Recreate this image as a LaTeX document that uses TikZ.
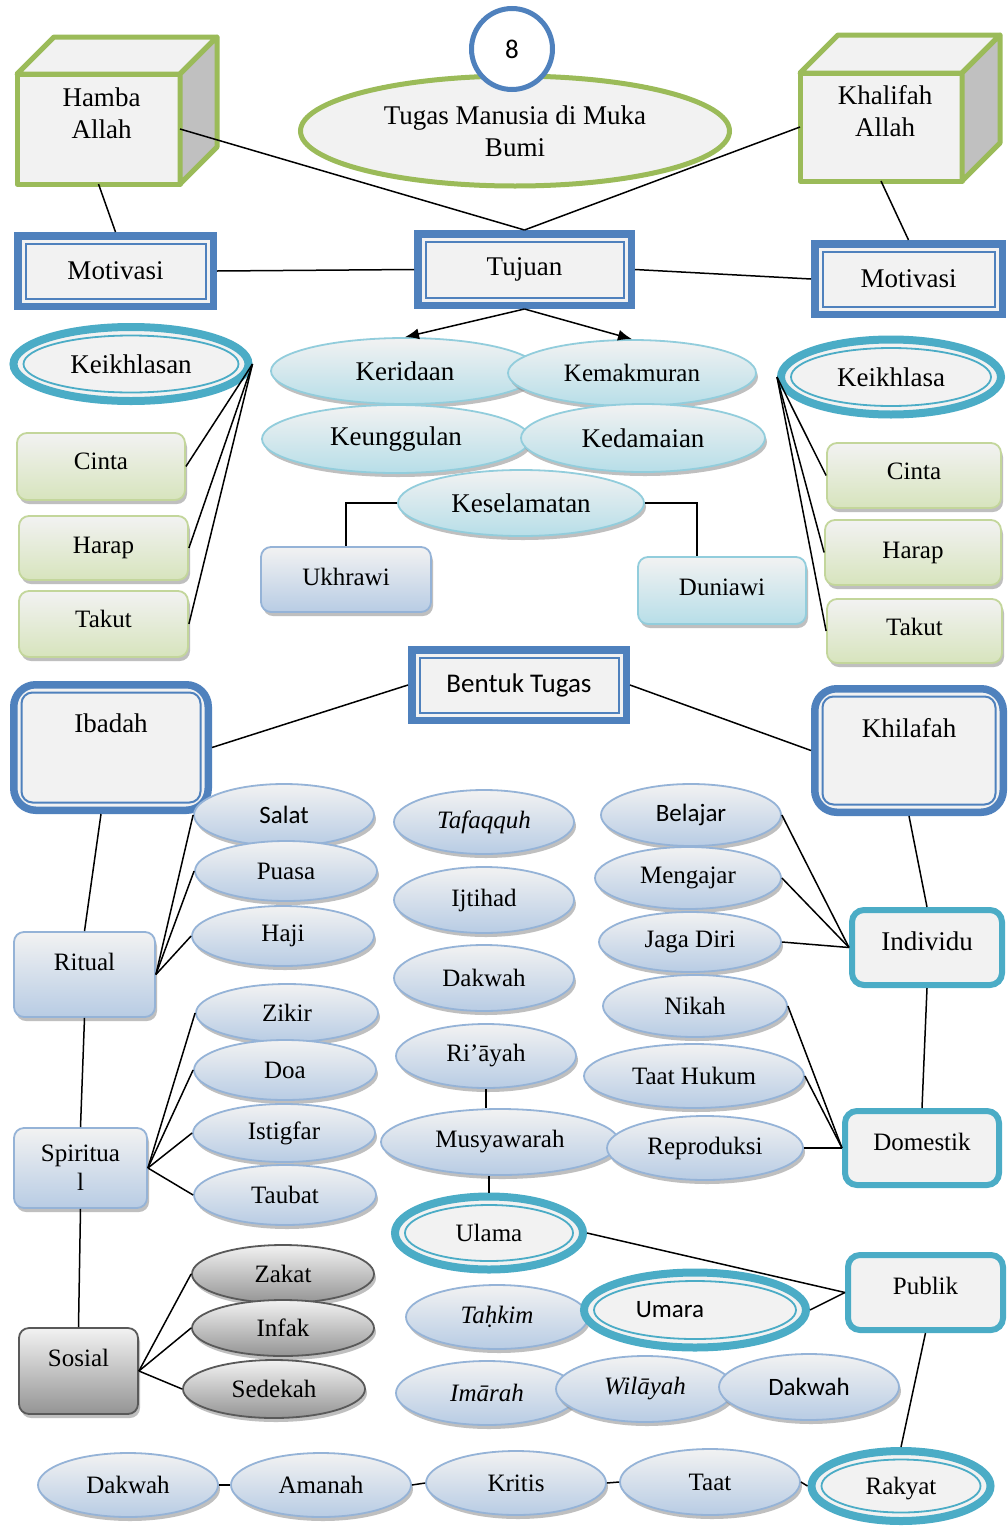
\documentclass[tikz,border=0pt]{standalone}
\usepackage{fontspec}
\setmainfont{Liberation Serif}
\newfontfamily\calib{Carlito}
\usetikzlibrary{shapes.geometric,shadows,calc,arrows.meta}

\definecolor{boxblue}{HTML}{4F81BD}
\definecolor{aqua}{HTML}{4BACC6}
\definecolor{leaf}{HTML}{9BBB59}
\definecolor{paper}{HTML}{F2F2F2}
\definecolor{blueedge}{HTML}{95B3D7}
\definecolor{bluefill}{HTML}{B8CCE4}
\definecolor{aquaedge}{HTML}{92CDDC}
\definecolor{aquafill}{HTML}{B7DEE8}
\definecolor{greenedge}{HTML}{C3D69B}
\definecolor{greenfill}{HTML}{D7E4BD}
\definecolor{grayedge}{HTML}{595959}
\definecolor{grayfill}{HTML}{949494}
\definecolor{sidegray}{HTML}{C0C0C0}

\tikzset{
  txt/.style={font=\fontsize{25}{29}\selectfont},
  txtbig/.style={font=\fontsize{27}{32}\selectfont},
  txtsans/.style={font=\calib\fontsize{25}{29}\selectfont},
  txtsansbig/.style={font=\calib\fontsize{27}{32}\selectfont},
  link/.style={draw=black, line width=1.5},
  softshadow/.style={drop shadow={shadow xshift=2pt, shadow yshift=-4pt, fill=black!45, opacity=0.55}},
  oval/.style={ellipse, inner sep=0, line width=1.8, txt, softshadow},
  blueoval/.style={oval, draw=blueedge, top color=paper, bottom color=bluefill},
  aquaoval/.style={oval, draw=aquaedge, top color=paper, bottom color=aquafill, txtbig},
  grayoval/.style={oval, draw=grayedge, top color=paper, bottom color=grayfill},
  card/.style={rectangle, rounded corners=10, inner sep=0, line width=1.8, txt, softshadow},
  bluecard/.style={card, draw=blueedge, top color=paper, bottom color=bluefill},
  aquacard/.style={card, draw=aquaedge, top color=paper, bottom color=aquafill},
  greencard/.style={card, draw=greenedge, top color=paper, bottom color=greenfill},
  graycard/.style={card, draw=grayedge, top color=paper, bottom color=grayfill},
  ring/.style={ellipse, inner sep=0, draw=aqua, line width=8, fill=paper, txt},
  twin/.style={rectangle, inner sep=0, draw=boxblue, line width=7.5, fill=paper, txtbig},
  aquabox/.style={rectangle, rounded corners=12, inner sep=0, draw=aqua, line width=6, fill=paper, txt},
  cubeface/.style={draw=leaf, line width=5, line join=round},
}

% oval node: style, name, cx, cy, width, height, text
\newcommand\ovalnode[7]{\node[#1, minimum width=#5, minimum height=#6] (#2) at (#3,#4) {#7};}
% card node: style, name, cx, cy, width, height, extra options, text
\newcommand\cardnode[8]{\node[#1, minimum width=#5, minimum height=#6, #7] (#2) at (#3,#4) {#8};}
% framed box with a thin inner line: name, cx, cy, width, height, corner radius, options, text
\newcommand\twinbox[8]{%
  \node[twin, rounded corners=#6, minimum width=#4, minimum height=#5, #7] (#1) at (#2,#3) {#8};
  \draw[boxblue, line width=2, rounded corners=#6/2]
    ($(#1.north west)+(11.5,11.5)$) rectangle ($(#1.south east)+(-11.5,-11.5)$);}
% ring ellipse with a thin inner line: name, cx, cy, width, height, text, options
\newcommand\ringoval[7]{%
  \node[ring, minimum width=#4, minimum height=#5, #7] (#1) at (#2,#3) {#6};
  \draw[aqua, line width=1.8] (#1.center) ellipse [x radius=#4/2-10, y radius=#5/2-8.5];}

\begin{document}
\begin{tikzpicture}[x=1pt,y=-1pt]
\fill[white] (0,0) rectangle (1008,1526);
\useasboundingbox (0,0) rectangle (1008,1526);

% ---------- title ----------
\node[ellipse, draw=leaf, line width=5, fill=paper, inner sep=0, minimum width=429,
      minimum height=110, txtbig, align=center] (tugas) at (515,131)
      {Tugas Manusia di Muka\\Bumi};
\node[circle, draw=boxblue, line width=5, fill=white, inner sep=0, minimum size=81,
      font=\calib\fontsize{27}{32}\selectfont] (nomor) at (512,49) {8};

% ---------- cubes ----------
\node[rectangle, cubeface, fill=paper, inner sep=0, outer sep=0, minimum width=163, minimum height=110,
      label={[txtbig, align=center, anchor=north, inner sep=0, xshift=3, yshift=-13.5]north:Hamba\\Allah}]
      (hamba) at (98.5,129) {};
\filldraw[cubeface, fill=paper] (17,74) -- (54,37) -- (217,37) -- (180,74) -- cycle;
\filldraw[cubeface, fill=sidegray] (180,74) -- (217,37) -- (217,147) -- (180,184) -- cycle;

\node[rectangle, cubeface, fill=paper, inner sep=0, outer sep=0, minimum width=162, minimum height=108,
      label={[txtbig, align=center, anchor=north, inner sep=0, xshift=4, yshift=-12.5]north:Khalifah\\Allah}]
      (khalifah) at (881,127) {};
\filldraw[cubeface, fill=paper] (800,73) -- (838,35) -- (1000,35) -- (962,73) -- cycle;
\filldraw[cubeface, fill=sidegray] (962,73) -- (1000,35) -- (1000,143) -- (962,181) -- cycle;

% ---------- Motivasi / Tujuan ----------
\twinbox{motivL}{115.5}{271}{195.5}{70.5}{0}{}{Motivasi}
\twinbox{tujuan}{524.5}{269.5}{213.5}{71.5}{0}{}{Tujuan}
\twinbox{motivR}{908.5}{279}{187.5}{70.5}{0}{}{Motivasi}

\ringoval{keikL}{131}{364}{235}{74}{Keikhlasan}{txtbig}
\ringoval{keikR}{891}{377}{220}{75}{Keikhlasa}{txtbig}

\cardnode{greencard}{cintaL}{101}{466.5}{168}{67}{text depth=10}{Cinta}
\cardnode{greencard}{harapL}{103.5}{548}{169}{64}{}{Harap}
\cardnode{greencard}{takutL}{103.5}{624}{169}{66}{text depth=10}{Takut}
\cardnode{greencard}{cintaR}{914}{475.5}{174}{65}{text depth=9}{Cinta}
\cardnode{greencard}{harapR}{913}{552.5}{176}{65}{}{Harap}
\cardnode{greencard}{takutR}{914.5}{631}{175}{64}{text depth=8}{Takut}

% ---------- goals ----------
\ovalnode{aquaoval}{keridaan}{405}{371}{268}{66}{Keridaan}
\ovalnode{aquaoval,txt}{kemak}{632}{373}{248}{66}{Kemakmuran}
\ovalnode{aquaoval}{keung}{396}{439}{268}{68}{Keunggulan}
\ovalnode{aquaoval}{kedam}{643}{438}{244}{68}{Kedamaian}
\ovalnode{aquaoval}{kesel}{521}{503}{246}{66}{Keselamatan}

\cardnode{bluecard}{ukhrawi}{346}{579.5}{170}{65}{text depth=6}{Ukhrawi}
\cardnode{aquacard}{duniawi}{722}{590.5}{168}{67}{text depth=6}{Duniawi}

% ---------- forms of duty ----------
\twinbox{bentuk}{519}{685}{214.5}{70.5}{0}{txtsansbig}{Bentuk Tugas}
\twinbox{ibadah}{111}{747.5}{194.5}{125.5}{22}
  {label={[txtbig, anchor=north, inner sep=0, yshift=-32.5]north:Ibadah}}{}
\twinbox{khilafah}{909}{750.5}{188.5}{123.5}{22}
  {label={[txtbig, anchor=north, inner sep=0, yshift=-33.5]north:Khilafah}}{}

% ibadah branches
\ovalnode{blueoval,txtsans}{salat}{284}{815}{180}{62}{Salat}
\ovalnode{blueoval}{puasa}{286}{871}{182}{60}{Puasa}
\ovalnode{blueoval}{haji}{283}{936}{182}{60}{Haji}
\ovalnode{blueoval}{zikir}{287}{1013}{182}{58}{Zikir}
\ovalnode{blueoval}{doa}{285}{1070}{182}{60}{Doa}
\ovalnode{blueoval}{istig}{284}{1133}{182}{58}{Istigfar}
\ovalnode{blueoval}{taubat}{285}{1195}{182}{60}{Taubat}
\ovalnode{grayoval}{zakat}{283}{1274}{182}{58}{Zakat}
\ovalnode{grayoval}{infak}{283}{1328}{182}{56}{Infak}
\ovalnode{grayoval}{sedekah}{274}{1389}{182}{58}{Sedekah}

\cardnode{bluecard}{ritual}{84.5}{974.5}{141}{85}{text depth=26}{Ritual}
\cardnode{bluecard}{spiritual}{80.5}{1168}{133}{80}{align=center}{Spiritua\\l}
\cardnode{graycard}{sosial}{78.5}{1371}{119}{86}{text depth=27}{Sosial}

% middle column
\ovalnode{blueoval}{tafaq}{484}{822}{180}{64}{\itshape Tafaqquh}
\ovalnode{blueoval}{ijtihad}{484}{900}{180}{66}{Ijtihad}
\ovalnode{blueoval}{dakwahM}{484}{978}{180}{66}{Dakwah}
\ovalnode{blueoval}{riayah}{486}{1056}{180}{64}{Ri’āyah}
\ovalnode{blueoval}{taathukum}{694}{1076}{220}{64}{Taat Hukum}
\ovalnode{blueoval}{musy}{500}{1142}{238}{66}{Musyawarah}
\ovalnode{blueoval}{repro}{705}{1148}{196}{64}{Reproduksi}
\ringoval{ulama}{489}{1233}{188}{73}{Ulama}{}
\ovalnode{blueoval}{tahkim}{497}{1317}{182}{64}{\itshape Taḥkim}
\ringoval{umara}{695}{1310}{222}{75}{}{label={[txtsans, inner sep=0, xshift=-25]center:Umara}}
\ovalnode{blueoval}{imarah}{487}{1393}{182}{64}{\itshape Imārah}
\ovalnode{blueoval}{wilayah}{645}{1389}{178}{66}{\itshape Wilāyah}
\ovalnode{blueoval,txtsans}{dakwahS}{809}{1387}{180}{66}{Dakwah}

% khilafah branches
\ovalnode{blueoval,txtsans}{belajar}{691}{815}{180}{62}{Belajar}
\ovalnode{blueoval}{mengajar}{688}{878}{186}{62}{Mengajar}
\ovalnode{blueoval}{jaga}{690}{942}{182}{60}{Jaga Diri}
\ovalnode{blueoval}{nikah}{695}{1006}{184}{62}{Nikah}

\node[aquabox, txtbig, minimum width=150, minimum height=75, text depth=12] (individu) at (927,947.5) {Individu};
\node[aquabox, minimum width=154, minimum height=74, text depth=12] (domestik) at (922,1148) {Domestik};
\node[aquabox, minimum width=155, minimum height=75, text depth=14] (publik) at (925.5,1292.5) {Publik};

% bottom row
\ovalnode{blueoval}{dakwahB}{128}{1485}{180}{64}{Dakwah}
\ovalnode{blueoval}{amanah}{321}{1485}{180}{64}{Amanah}
\ovalnode{blueoval}{kritis}{516}{1483}{180}{64}{Kritis}
\ovalnode{blueoval}{taat}{710}{1482}{180}{66}{Taat}
\ringoval{rakyat}{901}{1486}{179}{70}{Rakyat}{text depth=0}

% ---------- connectors ----------
\draw[link] (hamba.east) -- (tujuan.north);
\draw[link] (khalifah.west) -- (tujuan.north);
\draw[link] (hamba.south) -- (motivL.north);
\draw[link] (khalifah.south) -- (motivR.north);
\draw[link] (motivL.east) -- (tujuan.west);
\draw[link] (tujuan.east) -- (motivR.west);
\draw[link, -{Latex[length=14,width=11]}] (tujuan.south) -- (keridaan.north);
\draw[link, -{Latex[length=14,width=11]}] (tujuan.south) -- (kemak.north);

\foreach \t in {cintaL, harapL, takutL} \draw[link] (keikL.east) -- (\t.east);
\foreach \t in {cintaR, harapR, takutR} \draw[link] (keikR.west) -- (\t.west);

\draw[link] (kesel.west) -| (ukhrawi.north);
\draw[link] (kesel.east) -| ([xshift=-25]duniawi.north);

\draw[link] (ibadah.east) -- (bentuk.west);
\draw[link] (bentuk.east) -- (khilafah.west);
\draw[link] ([xshift=-10]ibadah.south) -- (ritual.north);
\draw[link] (ritual.south) -- (spiritual.north);
\draw[link] (spiritual.south) -- (sosial.north);
\foreach \t in {salat, puasa, haji} \draw[link] (ritual.east) -- (\t.west);
\foreach \t in {zikir, doa, istig, taubat} \draw[link] (spiritual.east) -- (\t.west);
\foreach \t in {zakat, infak, sedekah} \draw[link] (sosial.east) -- (\t.west);

\draw[link] (riayah.south) -- (riayah.south |- musy.north);
\draw[link] (musy.south -| ulama.north) -- (ulama.north);

\draw[link] (khilafah.south) -- (individu.north);
\draw[link] (individu.south) -- (domestik.north);
\draw[link] (publik.south) -- (rakyat.north);
\foreach \t in {belajar, mengajar, jaga} \draw[link] (\t.east) -- (individu.west);
\foreach \t in {nikah, taathukum, repro} \draw[link] (\t.east) -- (domestik.west);
\draw[link] (ulama.east) -- (publik.west);
\draw[link] (umara.east) -- (publik.west);

\draw[link] (dakwahB.east) -- (amanah.west);
\draw[link] (amanah.east) -- (kritis.west);
\draw[link] (kritis.east) -- (taat.west);
\draw[link] (taat.east) -- (rakyat.west);
\end{tikzpicture}
\end{document}
